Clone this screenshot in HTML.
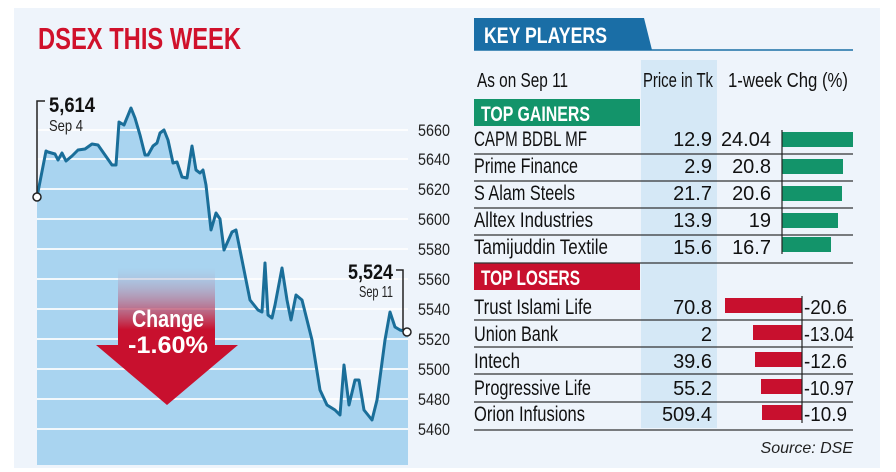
<!DOCTYPE html>
<html><head><meta charset="utf-8"><style>
body{margin:0;background:#fff;}
svg{display:block;}
text{font-family:"Liberation Sans",sans-serif;}
</style></head><body>
<svg width="896" height="472" viewBox="0 0 896 472" xmlns="http://www.w3.org/2000/svg">
<defs>
<linearGradient id="ag" x1="0" y1="0" x2="0" y2="1">
<stop offset="0" stop-color="#a9d4f0" stop-opacity="0.3"/>
<stop offset="0.45" stop-color="#c8102e"/>
<stop offset="1" stop-color="#c8102e"/>
</linearGradient>
</defs>
<rect x="14" y="8" width="866" height="460" fill="#eef4fb"/>
<text x="38" y="49" font-size="31" font-weight="bold" fill="#d0112b" textLength="203" lengthAdjust="spacingAndGlyphs">DSEX THIS WEEK</text>
<path d="M37,197 L46,151 L48,152 L55,154 L58,160 L62,153 L66,161 L72,156 L78,150 L85,149 L92,144 L98,145 L105,155 L112,165 L116,165 L119,122 L124,125 L131,108 L135,118 L140,135 L145,155 L148,155 L153,146 L157,143 L160,133 L164,130 L168,140 L173,163 L177,162 L182,177 L187,178 L192,146 L196,170 L200,173 L203,170 L206,185 L211,230 L216,213 L220,219 L224,250 L232,232 L236,230 L243,265 L250,300 L258,310 L262,312 L265,263 L268,315 L272,318 L275,305 L282,268 L287,300 L291,320 L296,295 L302,300 L312,340 L320,390 L327,405 L335,410 L340,415 L344,365 L349,405 L355,380 L359,380 L364,410 L372,420 L377,400 L385,340 L390,312 L395,327 L400,330 L407,332 L408,332 L408,465 L37,465 Z" fill="#a9d4f0"/>
<g stroke="#fff" stroke-width="2" opacity="0.85">
<line x1="37" x2="408" y1="249" y2="249"/><line x1="37" x2="408" y1="279" y2="279"/>
<line x1="37" x2="408" y1="309" y2="309"/><line x1="37" x2="408" y1="339" y2="339"/>
<line x1="37" x2="408" y1="369" y2="369"/><line x1="37" x2="408" y1="399" y2="399"/>
<line x1="37" x2="408" y1="429" y2="429"/>
<line x1="37" x2="408" y1="130" y2="130"/><line x1="37" x2="408" y1="159" y2="159"/>
<line x1="37" x2="408" y1="189" y2="189"/><line x1="37" x2="408" y1="219" y2="219"/>
</g>
<path d="M37,197 L46,151 L48,152 L55,154 L58,160 L62,153 L66,161 L72,156 L78,150 L85,149 L92,144 L98,145 L105,155 L112,165 L116,165 L119,122 L124,125 L131,108 L135,118 L140,135 L145,155 L148,155 L153,146 L157,143 L160,133 L164,130 L168,140 L173,163 L177,162 L182,177 L187,178 L192,146 L196,170 L200,173 L203,170 L206,185 L211,230 L216,213 L220,219 L224,250 L232,232 L236,230 L243,265 L250,300 L258,310 L262,312 L265,263 L268,315 L272,318 L275,305 L282,268 L287,300 L291,320 L296,295 L302,300 L312,340 L320,390 L327,405 L335,410 L340,415 L344,365 L349,405 L355,380 L359,380 L364,410 L372,420 L377,400 L385,340 L390,312 L395,327 L400,330 L407,332" fill="none" stroke="#1a6e99" stroke-width="3" stroke-linejoin="round"/>
<g font-size="17" fill="#222">
<text x="418" y="136" textLength="32" lengthAdjust="spacingAndGlyphs">5660</text><text x="418" y="165" textLength="32" lengthAdjust="spacingAndGlyphs">5640</text><text x="418" y="195" textLength="32" lengthAdjust="spacingAndGlyphs">5620</text>
<text x="418" y="225" textLength="32" lengthAdjust="spacingAndGlyphs">5600</text><text x="418" y="255" textLength="32" lengthAdjust="spacingAndGlyphs">5580</text><text x="418" y="285" textLength="32" lengthAdjust="spacingAndGlyphs">5560</text>
<text x="418" y="315" textLength="32" lengthAdjust="spacingAndGlyphs">5540</text><text x="418" y="345" textLength="32" lengthAdjust="spacingAndGlyphs">5520</text><text x="418" y="375" textLength="32" lengthAdjust="spacingAndGlyphs">5500</text>
<text x="418" y="405" textLength="32" lengthAdjust="spacingAndGlyphs">5480</text><text x="418" y="435" textLength="32" lengthAdjust="spacingAndGlyphs">5460</text>
</g>
<polyline points="37,197 37,101 45,101" fill="none" stroke="#222" stroke-width="1.5"/>
<circle cx="37" cy="197" r="4" fill="#fff" stroke="#222" stroke-width="1.5"/>
<text x="49" y="112" font-size="21" font-weight="bold" fill="#111" textLength="46" lengthAdjust="spacingAndGlyphs">5,614</text>
<text x="49" y="131" font-size="16" fill="#222" textLength="34" lengthAdjust="spacingAndGlyphs">Sep 4</text>
<polyline points="396,270 403,270 403,330" fill="none" stroke="#222" stroke-width="1.5"/>
<circle cx="407" cy="332" r="4" fill="#fff" stroke="#222" stroke-width="1.5"/>
<text x="348" y="279" font-size="21" font-weight="bold" fill="#111" textLength="45" lengthAdjust="spacingAndGlyphs">5,524</text>
<text x="359" y="297" font-size="16" fill="#222" textLength="34" lengthAdjust="spacingAndGlyphs">Sep 11</text>
<path d="M118,268 L215,268 L215,345 L238,345 L167,405 L96,345 L118,345 Z" fill="url(#ag)"/>
<text x="132" y="327" font-size="24" font-weight="bold" fill="#fff" textLength="72" lengthAdjust="spacingAndGlyphs">Change</text>
<text x="128" y="353" font-size="24" font-weight="bold" fill="#fff" textLength="80" lengthAdjust="spacingAndGlyphs">-1.60%</text>

<path d="M474,18 L644,18 L652,50 L474,50 Z" fill="#1a6ea6"/>
<line x1="474" y1="50" x2="853" y2="50" stroke="#1a6ea6" stroke-width="1.5"/>
<text x="484" y="43" font-size="22" font-weight="bold" fill="#fff" textLength="123" lengthAdjust="spacingAndGlyphs">KEY PLAYERS</text>
<rect x="641" y="60" width="76" height="368" fill="#d5e8f6"/>
<g font-size="20" fill="#111">
<text x="477" y="87" textLength="91" lengthAdjust="spacingAndGlyphs">As on Sep 11</text>
<text x="643" y="87" textLength="70" lengthAdjust="spacingAndGlyphs">Price in Tk</text>
<text x="728" y="87" textLength="120" lengthAdjust="spacingAndGlyphs">1-week Chg (%)</text>
</g>
<rect x="474" y="99" width="166" height="27" fill="#13946a"/>
<text x="481" y="121" font-size="21" font-weight="bold" fill="#fff" textLength="109" lengthAdjust="spacingAndGlyphs">TOP GAINERS</text>
<rect x="474" y="263" width="166" height="27" fill="#c8102e"/>
<text x="481" y="285" font-size="21" font-weight="bold" fill="#fff" textLength="99" lengthAdjust="spacingAndGlyphs">TOP LOSERS</text>
<g stroke="#333" stroke-width="1.2">
<line x1="474" x2="853" y1="154" y2="154"/><line x1="474" x2="853" y1="181" y2="181"/>
<line x1="474" x2="853" y1="208" y2="208"/><line x1="474" x2="853" y1="235" y2="235"/>
<line x1="474" x2="853" y1="263" y2="263"/>
<line x1="474" x2="853" y1="320" y2="320"/><line x1="474" x2="853" y1="347" y2="347"/>
<line x1="474" x2="853" y1="374" y2="374"/><line x1="474" x2="853" y1="402" y2="402"/>
<line x1="474" x2="853" y1="430" y2="430"/>
</g>
<g fill="#13946a">
<rect x="782" y="132" width="71" height="15"/><rect x="782" y="159" width="61" height="15"/>
<rect x="782" y="186" width="60" height="15"/><rect x="782" y="213" width="56" height="15"/>
<rect x="782" y="237" width="49" height="15"/>
</g>
<line x1="782" y1="130" x2="782" y2="254" stroke="#222" stroke-width="1.2"/>
<g fill="#c8102e">
<rect x="725" y="298" width="77" height="15"/><rect x="753" y="325" width="49" height="15"/>
<rect x="755" y="352" width="47" height="15"/><rect x="761" y="379" width="41" height="15"/>
<rect x="762" y="405" width="40" height="15"/>
</g>
<line x1="802" y1="296" x2="802" y2="423" stroke="#222" stroke-width="1.2"/>
<g font-size="21" fill="#111">
<text x="474" y="146" textLength="113" lengthAdjust="spacingAndGlyphs">CAPM BDBL MF</text>
<text x="474" y="173" textLength="104" lengthAdjust="spacingAndGlyphs">Prime Finance</text>
<text x="474" y="200" textLength="101" lengthAdjust="spacingAndGlyphs">S Alam Steels</text>
<text x="474" y="227" textLength="119" lengthAdjust="spacingAndGlyphs">Alltex Industries</text>
<text x="474" y="254" textLength="134" lengthAdjust="spacingAndGlyphs">Tamijuddin Textile</text>
<text x="474" y="314" textLength="118" lengthAdjust="spacingAndGlyphs">Trust Islami Life</text>
<text x="474" y="341" textLength="84" lengthAdjust="spacingAndGlyphs">Union Bank</text>
<text x="474" y="368" textLength="46" lengthAdjust="spacingAndGlyphs">Intech</text>
<text x="474" y="395" textLength="117" lengthAdjust="spacingAndGlyphs">Progressive Life</text>
<text x="474" y="421" textLength="111" lengthAdjust="spacingAndGlyphs">Orion Infusions</text>
</g>
<g font-size="20" fill="#111" text-anchor="end">
<text x="712" y="146">12.9</text><text x="712" y="173">2.9</text><text x="712" y="200">21.7</text>
<text x="712" y="227">13.9</text><text x="712" y="254">15.6</text>
<text x="712" y="314">70.8</text><text x="712" y="341">2</text><text x="712" y="368">39.6</text>
<text x="712" y="395">55.2</text><text x="712" y="421">509.4</text>
<text x="771" y="146">24.04</text><text x="771" y="173">20.8</text><text x="771" y="200">20.6</text>
<text x="771" y="227">19</text><text x="771" y="254">16.7</text>
</g>
<g font-size="20" fill="#111">
<text x="804" y="314" textLength="43" lengthAdjust="spacingAndGlyphs">-20.6</text>
<text x="804" y="341" textLength="50" lengthAdjust="spacingAndGlyphs">-13.04</text>
<text x="804" y="368" textLength="43" lengthAdjust="spacingAndGlyphs">-12.6</text>
<text x="804" y="395" textLength="50" lengthAdjust="spacingAndGlyphs">-10.97</text>
<text x="804" y="421" textLength="43" lengthAdjust="spacingAndGlyphs">-10.9</text>
</g>
<text x="853" y="453" font-size="16" font-style="italic" fill="#222" text-anchor="end">Source: DSE</text>
</svg>
</body></html>
